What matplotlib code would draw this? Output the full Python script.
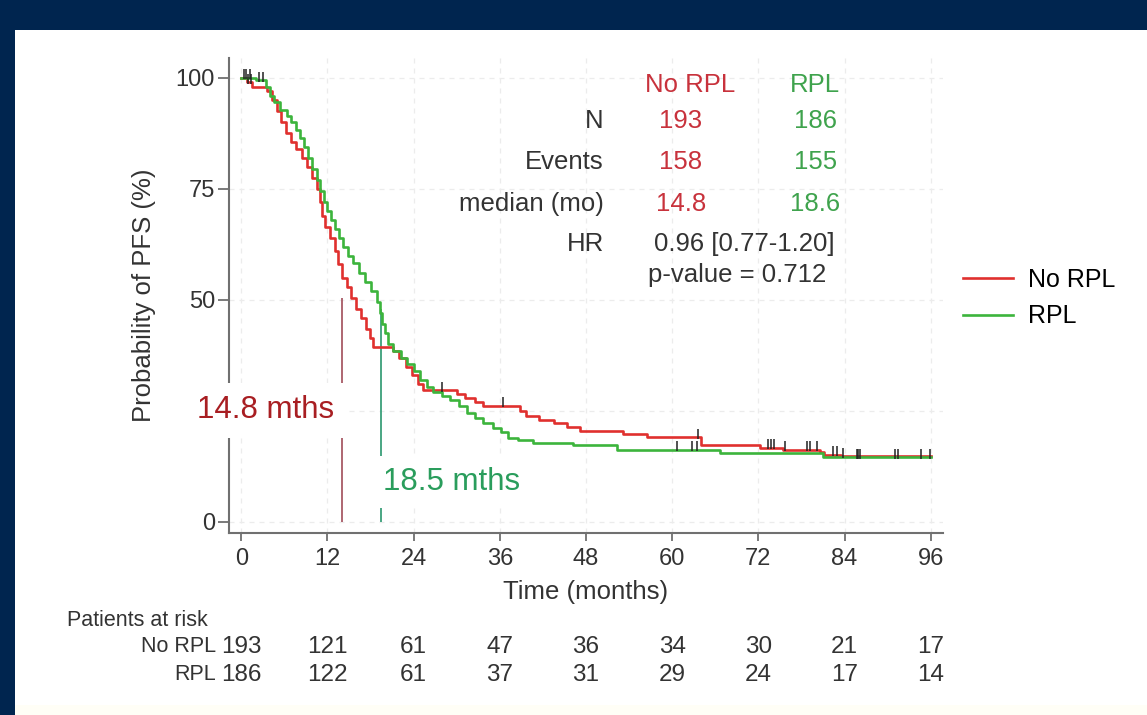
import numpy as np
import matplotlib.pyplot as plt
import matplotlib.transforms as mtransforms
from matplotlib.patches import Rectangle

plt.rcParams['font.family'] = ['Liberation Sans', 'DejaVu Sans']

# ---- data ----
groups = ['No RPL', 'RPL']

t_norpl = [0, 0.8, 1.5, 3.6, 4.3, 5.0, 5.6, 6.2, 6.9, 7.6, 8.4, 9.2, 9.9, 10.5, 11.0,
           11.3, 11.7, 12.3, 13.0, 13.5, 14.1, 14.7, 15.3, 16.0, 16.7, 17.4, 17.9, 18.4,
           21.2, 22.0, 23.0, 23.8, 24.6, 25.3, 30.0, 31.2, 32.5, 33.7, 38.8, 39.6, 41.5,
           43.5, 45.4, 47.2, 53.1, 56.5, 64.0, 72.2, 75.4, 80.6, 81.2, 83.5, 96]
s_norpl = [100, 99, 98, 97, 95, 92.5, 90, 87.5, 85.5, 84, 82, 80, 77.5, 75, 72,
           69, 66.5, 64, 61, 58, 55, 53, 50.5, 48, 46, 43.5, 41.5, 39.4,
           38.6, 37, 35, 33, 31, 29.7, 28.8, 28.0, 27.0, 26.2, 25.0, 23.8, 23.0,
           22.3, 21.4, 20.4, 19.8, 19.1, 17.3, 16.7, 16.2, 15.8, 15.1, 14.8, 14.8]

t_rpl = [0, 2.0, 3.4, 4.0, 4.6, 5.4, 6.4, 7.0, 7.6, 8.2, 8.7, 9.3, 9.9, 10.5, 11.0,
         11.5, 12.0, 12.5, 13.0, 13.6, 14.2, 14.9, 15.6, 16.4, 17.2, 18.0, 18.9, 19.3,
         19.6, 20.0, 20.5, 21.2, 22.2, 23.1, 24.0, 24.9, 25.8, 26.7, 28.0, 29.1, 30.3,
         31.4, 32.6, 33.7, 35.0, 36.2, 37.2, 38.5, 40.6, 46.2, 52.3, 66.6, 81.0, 96]
s_rpl = [100, 99.5, 98, 96, 94.5, 92.8, 91.5, 90, 88.3, 86.5, 84.5, 82, 79.5, 77, 74.5,
         72, 70, 68, 66, 64, 62, 60, 58.3, 56, 54, 52, 49.5, 47,
         44.5, 42.5, 40, 38.5, 37, 35.5, 34, 32, 30.5, 29.3, 28.3, 27.5, 26,
         24.5, 23.3, 22.3, 21.2, 20.2, 19.0, 18.4, 17.8, 17.3, 16.2, 15.5, 14.6, 14.6]

cens_norpl = [0.4, 0.9, 1.3, 28.0, 36.5, 63.6, 73.3, 73.7, 74.2, 75.7, 78.7, 79.2,
              80.2, 82.4, 82.9, 83.8]
cens_rpl = [0.6, 1.2, 2.5, 3.0, 60.7, 62.7, 63.4, 85.7, 85.9, 86.1, 91.0, 91.4,
            94.7, 95.9]

median_x = [14.1, 19.5]        # where the median drop lines are drawn
median_top = [50.5, 48]
median_lbl = ['14.8 mths', '18.5 mths']

n_obs = ['193', '186']
events = ['158', '155']
medians = ['14.8', '18.6']
hr_txt = '0.96 [0.77-1.20]'
p_txt = 'p-value = 0.712'

y_ticks = [0, 25, 50, 75, 100]
y_ticklabels = ['0', '', '50', '75', '100']   # the 25 label sits under the median box
risk_times = [0, 12, 24, 36, 48, 60, 72, 84, 96]
risk_norpl = [193, 121, 61, 47, 36, 34, 30, 21, 17]
risk_rpl = [186, 122, 61, 37, 31, 29, 24, 17, 14]

c_red = '#e0302e'
c_green = '#3cb43c'
c_red_txt = '#c8323c'
c_green_txt = '#3fa34d'
navy = '#00254f'

fig = plt.figure(figsize=(11.47, 7.15), dpi=100)
fig.patch.set_facecolor(navy)
fig.patches.append(Rectangle((15/1147, 0), 1, 1 - 30/715, transform=fig.transFigure,
                             facecolor='white', edgecolor='none', zorder=-10))
fig.patches.append(Rectangle((15/1147, 0), 1, 10/715, transform=fig.transFigure,
                             facecolor='#fffef6', edgecolor='none', zorder=-9))

ax = fig.add_axes([229/1147, 1 - 533/715, (943 - 229)/1147, (533 - 58)/715])
ax.set_facecolor('none')

ax.step(t_norpl, s_norpl, where='post', color=c_red, lw=1.9, label='No RPL', zorder=3)
ax.step(t_rpl, s_rpl, where='post', color=c_green, lw=1.9, label='RPL', zorder=3)

# censor ticks
for tt, ss, cc in [(t_norpl, s_norpl, cens_norpl), (t_rpl, s_rpl, cens_rpl)]:
    idx = np.searchsorted(tt, cc, side='right') - 1
    yy = np.array(ss)[idx]
    ax.plot(cc, yy + 0.8, ls='none', marker='|', ms=7, mew=1.1, color='#222222', zorder=4)

# median lines
ax.vlines(median_x[0], 0, median_top[0], color='#a85a66', lw=1.3, zorder=2)
ax.vlines(median_x[1], 0, median_top[1], color='#3a9f7a', lw=1.3, zorder=2)
ax.text(-6.1, 25.2, median_lbl[0], color='#a81e22', fontsize=22.5, ha='left', va='center',
        bbox=dict(facecolor='white', edgecolor='none', boxstyle='square,pad=0.4'),
        zorder=5, clip_on=False)
ax.text(19.8, 9.0, median_lbl[1], color='#2a9d5c', fontsize=22.5, ha='left', va='center',
        bbox=dict(facecolor='white', edgecolor='none', boxstyle='square,pad=0.35'),
        zorder=5, clip_on=False)

ax.set_xlim(-1.7, 97.7)
ax.set_ylim(-2.5, 104.5)
ax.set_xticks(risk_times)
ax.set_yticks(y_ticks)
ax.set_yticklabels(y_ticklabels)
ax.grid(True, color='#ececec', lw=0.9, ls=(0, (4, 4)))
ax.set_axisbelow(True)
for s in ['top', 'right']:
    ax.spines[s].set_visible(False)
for s in ['left', 'bottom']:
    ax.spines[s].set_color('#707070')
    ax.spines[s].set_linewidth(1.5)
ax.tick_params(axis='both', colors='#707070', width=1.3, labelcolor='#333333', labelsize=17)
ax.tick_params(axis='y', length=8, pad=2)
ax.tick_params(axis='x', length=6, pad=5)
ax.set_xlabel('Time (months)', fontsize=18.5, color='#333333', labelpad=7)
ax.set_ylabel('Probability of PFS (%)', fontsize=18.5, color='#333333', labelpad=14)

# summary table
tcol = '#333333'
ax.text(62.5, 98.4, groups[0], color=c_red_txt, fontsize=18.5, ha='center', va='center')
ax.text(79.9, 98.4, groups[1], color=c_green_txt, fontsize=18.5, ha='center', va='center')
rows = [('N', n_obs, 90.3), ('Events', events, 81.1), ('median (mo)', medians, 71.6)]
for lab, vals, yy in rows:
    ax.text(50.5, yy, lab, color=tcol, fontsize=18.5, ha='right', va='center')
    ax.text(61.2, yy, vals[0], color=c_red_txt, fontsize=18.5, ha='center', va='center')
    ax.text(79.9, yy, vals[1], color=c_green_txt, fontsize=18.5, ha='center', va='center')
ax.text(50.5, 62.6, 'HR', color=tcol, fontsize=18.5, ha='right', va='center')
ax.text(70.1, 62.6, hr_txt, color=tcol, fontsize=18.5, ha='center', va='center')
ax.text(69.0, 55.6, p_txt, color=tcol, fontsize=18.5, ha='center', va='center')

# legend
ax.legend(loc='center left', bbox_to_anchor=(950/1147, 1 - 298/715),
          bbox_transform=fig.transFigure, frameon=False, fontsize=18,
          handlelength=2.0, handletextpad=0.6, labelspacing=0.5, borderpad=0)

# patients at risk
tr = mtransforms.blended_transform_factory(ax.transData, fig.transFigure)
fig.text(67/1147, 1 - 621/715, 'Patients at risk', fontsize=15.5, color=tcol,
         ha='left', va='center')
fig.text(216/1147, 1 - 647/715, 'No RPL', fontsize=15.5, color=tcol, ha='right', va='center')
fig.text(216/1147, 1 - 675/715, 'RPL', fontsize=15.5, color=tcol, ha='right', va='center')
for x, a, b in zip(risk_times, risk_norpl, risk_rpl):
    ax.text(x, 1 - 647/715, str(a), transform=tr, fontsize=17.5, color=tcol,
            ha='center', va='center', clip_on=False)
    ax.text(x, 1 - 675/715, str(b), transform=tr, fontsize=17.5, color=tcol,
            ha='center', va='center', clip_on=False)

fig.savefig('out.png', dpi=100, facecolor=fig.get_facecolor())
